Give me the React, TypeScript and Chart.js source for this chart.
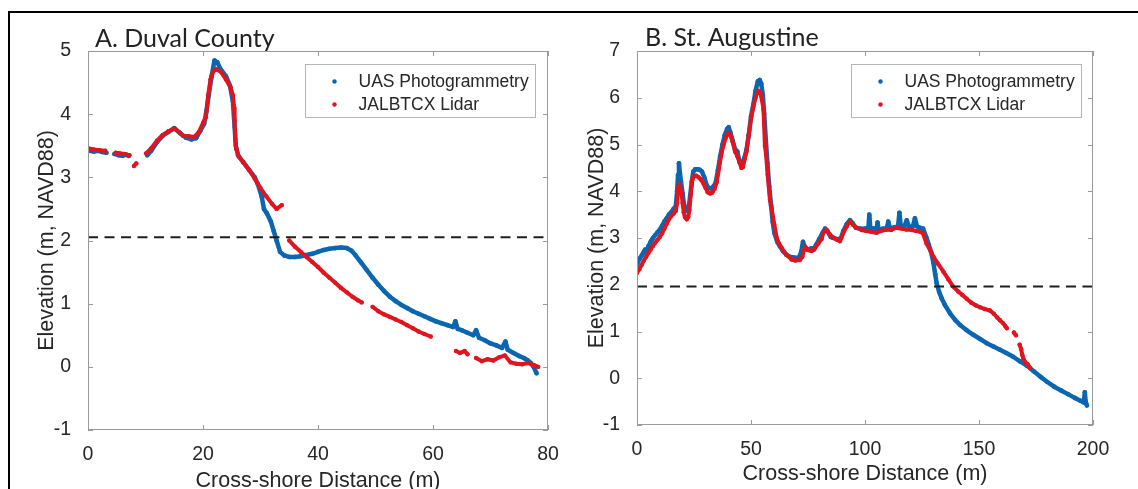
import React, { useEffect, useRef } from "react";
import { Chart, registerables } from "chart.js";

Chart.register(...registerables);

type Pt = [number, number | null];

// ---------- Panel A: Duval County ----------
const duvalTitle = "A. Duval County";
const duvalXTicks = { min: 0, max: 80, step: 20 };
const duvalYTicks = { min: -1, max: 5, step: 1 };
const duvalDatum = 2.05;
const duvalUas: Pt[] = [
  [0.2, 3.42], [1, 3.41], [1.8, 3.42], [2.5, 3.4], [3.2, 3.39], [3.6, null],
  [4.6, 3.37], [5.3, 3.35], [6, 3.34], [6.6, 3.36], [7.1, 3.34], [8, null],
  [10.3, 3.35], [11, 3.42], [12, 3.56], [13, 3.66], [14, 3.72], [15, 3.78], [16, 3.7],
  [17, 3.63], [18, 3.6], [18.8, 3.62], [19.5, 3.73], [20.2, 3.85], [20.6, 4.05], [21, 4.3],
  [21.5, 4.6], [22, 4.85], [22.5, 4.82], [23, 4.72], [24, 4.6], [24.7, 4.45], [25.2, 4.2],
  [25.5, 3.8], [25.7, 3.5], [26.1, 3.35], [27, 3.24], [28, 3.12], [29, 3.0], [29.5, 2.9],
  [30.2, 2.7], [30.6, 2.5], [31.1, 2.43], [31.8, 2.3], [32.3, 2.15], [32.8, 2.0], [33.4, 1.82],
  [34.2, 1.76], [35, 1.74], [36, 1.74], [37, 1.75], [38, 1.77], [39, 1.79], [40, 1.82],
  [41, 1.85], [42, 1.87], [43, 1.88], [44, 1.89], [45, 1.88], [45.8, 1.84], [46.5, 1.77],
  [47.5, 1.65], [48.5, 1.53], [49.5, 1.41], [50.5, 1.3], [51.5, 1.2], [52.5, 1.11],
  [53.5, 1.04], [54.5, 0.98], [55.5, 0.93], [56.5, 0.88], [57.5, 0.84], [58.5, 0.8],
  [59.5, 0.76], [60.5, 0.72], [61.5, 0.69], [62.5, 0.66], [63.5, 0.63], [63.9, 0.72],
  [64.3, 0.6], [65, 0.58], [66, 0.54], [67, 0.5], [67.5, 0.58], [68, 0.46], [69, 0.42],
  [70, 0.37], [71, 0.34], [72, 0.3], [72.6, 0.4], [73, 0.27], [74, 0.22], [75, 0.17],
  [75.8, 0.14], [76.5, 0.1], [77, 0.06], [77.5, 0.0], [78, -0.1],
];
const duvalLidar: Pt[] = [
  [0, 3.46], [1, 3.44], [2, 3.43], [3, 3.42], [3.8, null],
  [4.8, 3.39], [5.5, 3.38], [6.3, 3.37], [7.2, 3.35], [7.6, null],
  [8, 3.18], [8.4, 3.22], [9.2, null],
  [10.1, 3.38], [11, 3.46], [12, 3.58], [13, 3.67], [14, 3.73], [15, 3.77], [15.8, 3.72],
  [16.5, 3.66], [17.5, 3.65], [18.5, 3.64], [19.3, 3.72], [20, 3.86], [20.5, 3.95],
  [20.9, 4.3], [21.3, 4.55], [21.8, 4.68], [22.3, 4.71], [23, 4.68], [24, 4.55], [24.8, 4.42],
  [25.2, 4.3], [25.4, 4.1], [25.5, 3.9], [25.6, 3.62], [25.8, 3.45], [26.2, 3.33], [27, 3.24],
  [28, 3.12], [29, 2.98], [30, 2.83], [31, 2.7], [32, 2.58], [32.8, 2.5], [33.7, 2.56], [34.3, null],
  [35, 2.0], [36, 1.9], [37, 1.82], [38, 1.74], [39, 1.66], [40, 1.58], [41, 1.49], [42, 1.41],
  [43, 1.33], [44, 1.25], [45, 1.18], [46, 1.11], [47, 1.05], [47.6, 1.02], [48.6, null],
  [49.5, 0.95], [50.5, 0.88], [51.5, 0.83], [52.5, 0.79], [53.5, 0.75], [54.5, 0.71],
  [55.5, 0.66], [56.5, 0.61], [57.5, 0.56], [58.5, 0.52], [59.6, 0.48], [62, null],
  [64, 0.25], [64.7, 0.22], [65.5, 0.25], [66, 0.2], [66.8, null],
  [67.5, 0.14], [68.5, 0.09], [69.5, 0.12], [70.5, 0.1], [71.5, 0.15], [72.5, 0.18],
  [73.5, 0.07], [74.5, 0.05], [75.5, 0.04], [76.5, 0.06], [77.5, 0.03], [78.3, 0.0],
];

// ---------- Panel B: St. Augustine ----------
const augTitle = "B. St. Augustine";
const augXTicks = { min: 0, max: 200, step: 50 };
const augYTicks = { min: -1, max: 7, step: 1 };
const augDatum = 1.96;
const augUas: Pt[] = [
  [0, 2.43], [1, 2.55], [2, 2.62], [3, 2.7], [3.5, 2.75], [4, 2.7], [5, 2.82], [6, 2.92],
  [7, 3.0], [8, 3.06], [9, 3.12], [10, 3.18], [11, 3.26], [12, 3.35], [13, 3.42], [14, 3.5],
  [15, 3.55], [16, 3.62], [17, 3.68], [17.6, 4.0], [18, 4.35], [18.4, 4.6], [18.8, 4.4],
  [19.3, 4.2], [20, 3.95], [20.5, 3.75], [21.2, 3.6], [22, 3.58], [22.7, 3.65], [23.3, 3.9],
  [24, 4.2], [24.7, 4.42], [25.5, 4.47], [26.5, 4.47], [27.5, 4.46], [28.5, 4.42], [29.5, 4.3],
  [30.5, 4.13], [31.5, 4.07], [32.5, 4.06], [33.5, 4.1], [34.5, 4.18], [35.5, 4.45], [36.5, 4.75],
  [37.5, 5.0], [38.5, 5.2], [39.5, 5.33], [40.2, 5.37], [41, 5.25], [42, 5.08], [43, 4.9],
  [44, 4.85], [45, 4.62], [46, 4.55], [47, 4.7], [48, 4.88], [49, 5.2], [50, 5.6], [51, 5.85],
  [52, 6.15], [53, 6.35], [53.8, 6.38], [54.5, 6.3], [55.2, 6.05], [55.8, 5.65], [56.5, 5.1],
  [57.2, 4.6], [58, 4.1], [58.8, 3.7], [59.5, 3.35], [60.3, 3.1], [61.5, 2.92], [62.7, 2.82],
  [64, 2.72], [65.5, 2.64], [67, 2.6], [69, 2.58], [71, 2.58], [72, 2.7], [72.8, 2.92],
  [73.6, 2.8], [75, 2.75], [76.5, 2.78], [77.5, 2.75], [78.5, 2.85], [80, 2.98], [81.5, 3.12],
  [82.5, 3.2], [83.5, 3.15], [85, 3.02], [86.5, 3.0], [88, 2.97], [89.5, 3.0], [90.5, 3.15],
  [92, 3.3], [93.4, 3.38], [94.5, 3.32], [96, 3.22], [98, 3.2], [100, 3.2], [101.5, 3.22],
  [101.9, 3.5], [102.3, 3.22], [104, 3.2], [105, 3.15], [105.5, 3.33], [106, 3.18], [108, 3.2],
  [109.5, 3.2], [110.2, 3.35], [111, 3.2], [113, 3.23], [114.5, 3.25], [115.1, 3.54],
  [115.7, 3.25], [117, 3.22], [118.3, 3.38], [119.5, 3.22], [121, 3.25], [121.9, 3.42],
  [122.8, 3.25], [124, 3.22], [125.5, 3.2], [127, 3.0], [128, 2.85], [129, 2.7], [130, 2.47],
  [130.8, 2.22], [131.4, 2.04], [132.5, 1.85], [133.6, 1.71], [135, 1.57], [137.3, 1.39],
  [139.5, 1.25], [141.7, 1.14], [144.5, 1.03], [147.5, 0.93], [150.5, 0.84], [153.4, 0.75],
  [156.3, 0.68], [159.2, 0.61], [162, 0.54], [165, 0.46], [168, 0.36], [171, 0.27], [174, 0.15],
  [177, 0.03], [180, -0.08], [183, -0.18], [186, -0.26], [189, -0.34], [192, -0.42],
  [194.5, -0.48], [196, -0.52], [196.4, -0.3], [196.8, -0.5], [197.3, -0.58],
];
const augLidar: Pt[] = [
  [0, 2.25], [1, 2.33], [2, 2.42], [3, 2.52], [4, 2.6], [5, 2.68], [6, 2.76], [7, 2.83],
  [8, 2.9], [9, 2.96], [10, 3.02], [11, 3.1], [12, 3.2], [13, 3.3], [14, 3.4], [15, 3.47],
  [16, 3.52], [17, 3.58], [17.6, 3.75], [18, 4.05], [18.5, 4.15], [19, 4.05], [19.5, 3.95],
  [20, 3.75], [20.5, 3.55], [21, 3.45], [21.8, 3.4], [22.5, 3.45], [23, 3.6], [23.6, 3.95],
  [24.3, 4.25], [25, 4.32], [26, 4.33], [27, 4.3], [28, 4.25], [29, 4.18], [30, 4.08],
  [31, 3.98], [32, 3.95], [33, 3.97], [34, 4.05], [35, 4.2], [36, 4.5], [37, 4.8], [38, 5.0],
  [39, 5.15], [40, 5.25], [41, 5.2], [42, 5.05], [43, 4.85], [44, 4.75], [45, 4.62],
  [45.8, 4.5], [46.5, 4.52], [47.3, 4.7], [48, 4.85], [49, 5.2], [50, 5.55], [51, 5.8],
  [52, 6.0], [53, 6.15], [54, 6.12], [54.8, 5.95], [55.5, 5.75], [56.1, 4.97], [56.6, 4.79],
  [57.3, 4.36], [58.3, 3.82], [59, 3.64], [60.2, 3.29], [61.3, 3.0], [62.3, 2.88], [63.4, 2.79],
  [65.6, 2.64], [67.8, 2.54], [69.5, 2.52], [71.5, 2.53], [72.5, 2.6], [73.7, 2.82], [75, 2.74],
  [76.6, 2.72], [78, 2.78], [79.5, 2.88], [81, 2.98], [81.7, 3.11], [83.1, 3.18], [84.5, 3.08],
  [86.1, 3.0], [87.5, 2.97], [89, 2.93], [90.5, 3.11], [92, 3.25], [93.4, 3.36], [94.8, 3.28],
  [96.3, 3.22], [98.5, 3.17], [100.6, 3.15], [103, 3.13], [105, 3.11], [107, 3.15],
  [109.4, 3.18], [111.5, 3.17], [113.7, 3.22], [116, 3.2], [118.1, 3.18], [120.5, 3.17],
  [122.5, 3.15], [124, 3.14], [125.4, 3.1], [127, 2.88], [128.5, 2.75], [130, 2.6],
  [132, 2.45], [134.4, 2.28], [136.5, 2.12], [138.7, 1.96], [141, 1.85], [142.7, 1.78],
  [144.6, 1.7], [146.5, 1.62], [148.5, 1.56], [150.4, 1.52], [152.5, 1.48], [154.8, 1.45],
  [156.5, 1.38], [158, 1.3], [159.2, 1.24], [160.5, 1.18], [161.5, 1.12], [162.2, 1.07],
  [163.8, null], [165.3, 0.98], [166.2, 0.92], [167, null], [167.8, 0.72], [168.5, 0.62],
  [169, 0.5], [169.4, 0.43], [170.2, 0.35], [171.3, 0.3], [172.4, 0.22],
];

// ---------- Shared text ----------
const seriesNames = ["UAS Photogrammetry", "JALBTCX Lidar"];
const xAxisTitle = "Cross-shore Distance (m)";
const yAxisTitle = "Elevation (m, NAVD88)";

const BLUE = "#0b66b2";
const RED = "#e0151f";
const TEXT = "#262626";
const AXIS = "#9a9a9a";
const SANS = "'Liberation Sans', Arial, sans-serif";

const toXY = (pts: Pt[]) => pts.map(([x, y]) => ({ x, y }));

const matlabPlugin = {
  id: "matlabBox",
  afterDraw(chart: any, _args: any, opts: any) {
    const { ctx, chartArea: a, scales } = chart;
    const xs = scales.x;
    const ys = scales.y;
    ctx.save();
    // axes box
    ctx.strokeStyle = AXIS;
    ctx.lineWidth = 1;
    ctx.strokeRect(Math.round(a.left) + 0.5, Math.round(a.top) + 0.5, Math.round(a.right - a.left) - 1, Math.round(a.bottom - a.top) - 1);
    // inward ticks on all sides
    const tl = 5;
    ctx.beginPath();
    xs.ticks.forEach((t: any) => {
      const px = Math.round(xs.getPixelForValue(t.value)) + 0.5;
      ctx.moveTo(px, a.bottom);
      ctx.lineTo(px, a.bottom - tl);
      ctx.moveTo(px, a.top);
      ctx.lineTo(px, a.top + tl);
    });
    ys.ticks.forEach((t: any) => {
      const py = Math.round(ys.getPixelForValue(t.value)) + 0.5;
      ctx.moveTo(a.left, py);
      ctx.lineTo(a.left + tl, py);
      ctx.moveTo(a.right, py);
      ctx.lineTo(a.right - tl, py);
    });
    ctx.stroke();

    // panel title
    ctx.fillStyle = "#222222";
    ctx.font = "25px Lato, 'Open Sans', sans-serif";
    ctx.textAlign = "left";
    ctx.textBaseline = "alphabetic";
    ctx.fillText(opts.title, a.left + opts.titleDx, a.top + opts.titleDy);

    // legend box
    const lw = 230;
    const lh = 53;
    const lx = Math.round(a.right - opts.legendRight - lw) + 0.5;
    const ly = Math.round(a.top + 13) + 0.5;
    ctx.fillStyle = "#ffffff";
    ctx.fillRect(lx, ly, lw, lh);
    ctx.strokeStyle = "#b5b5b5";
    ctx.strokeRect(lx, ly, lw, lh);
    const colors = [BLUE, RED];
    ctx.font = `17.5px ${SANS}`;
    ctx.textBaseline = "middle";
    seriesNames.forEach((name, i) => {
      const cy = ly + 17 + i * 23;
      ctx.fillStyle = colors[i];
      ctx.beginPath();
      ctx.arc(lx + 29, cy, 2.2, 0, Math.PI * 2);
      ctx.fill();
      ctx.fillStyle = TEXT;
      ctx.fillText(name, lx + 53, cy + 1);
    });
    ctx.restore();
  },
};

type PanelCfg = {
  uas: Pt[];
  lidar: Pt[];
  datum: number;
  xr: { min: number; max: number; step: number };
  yr: { min: number; max: number; step: number };
  title: string;
  padding: { top: number; right: number; left: number; bottom: number };
  yWidth: number;
  xHeight: number;
  yTitlePad: number;
  xTitlePad: number;
  titleDx: number;
  titleDy: number;
  legendRight: number;
};

function Panel({ cfg, width, height, left }: { cfg: PanelCfg; width: number; height: number; left: number }) {
  const ref = useRef<HTMLCanvasElement | null>(null);
  useEffect(() => {
    if (!ref.current) return;
    const tickFont = { family: SANS, size: 19.5 };
    const titleFont = { family: SANS, size: 21.5 };
    const chart = new Chart(ref.current, {
      type: "scatter",
      data: {
        datasets: [
          {
            label: "datum",
            data: [{ x: cfg.xr.min, y: cfg.datum }, { x: cfg.xr.max, y: cfg.datum }],
            showLine: true,
            borderColor: "#1e1e1e",
            borderWidth: 2,
            borderDash: [10, 6.5],
            pointRadius: 0,
            order: 0,
          },
          {
            label: seriesNames[1],
            data: toXY(cfg.lidar),
            showLine: true,
            spanGaps: false,
            borderColor: RED,
            backgroundColor: RED,
            borderWidth: 4,
            borderJoinStyle: "round",
            borderCapStyle: "round",
            pointRadius: 2.2,
            pointBorderWidth: 0,
            order: 1,
          },
          {
            label: seriesNames[0],
            data: toXY(cfg.uas),
            showLine: true,
            spanGaps: false,
            borderColor: BLUE,
            backgroundColor: BLUE,
            borderWidth: 4.5,
            borderJoinStyle: "round",
            borderCapStyle: "round",
            pointRadius: 2.3,
            pointBorderWidth: 0,
            order: 2,
          },
        ],
      } as any,
      options: {
        animation: false,
        responsive: false,
        maintainAspectRatio: false,
        layout: { padding: cfg.padding },
        plugins: {
          legend: { display: false },
          tooltip: { enabled: false },
          matlabBox: { title: cfg.title, titleDx: cfg.titleDx, titleDy: cfg.titleDy, legendRight: cfg.legendRight },
        } as any,
        scales: {
          x: {
            type: "linear",
            min: cfg.xr.min,
            max: cfg.xr.max,
            afterFit: (s: any) => {
              s.height = cfg.xHeight;
            },
            grid: { display: false },
            border: { display: false },
            ticks: { stepSize: cfg.xr.step, padding: 5, color: TEXT, font: tickFont, maxRotation: 0, autoSkip: false },
            title: { display: true, text: xAxisTitle, color: TEXT, font: titleFont, padding: { top: 0, bottom: cfg.xTitlePad } },
          },
          y: {
            type: "linear",
            min: cfg.yr.min,
            max: cfg.yr.max,
            afterFit: (s: any) => {
              s.width = cfg.yWidth;
            },
            grid: { display: false },
            border: { display: false },
            ticks: { stepSize: cfg.yr.step, padding: 9, color: TEXT, font: tickFont, autoSkip: false },
            title: { display: true, text: yAxisTitle, color: TEXT, font: titleFont, padding: { top: cfg.yTitlePad, bottom: 0 } },
          },
        },
      } as any,
      plugins: [matlabPlugin as any],
    });
    return () => chart.destroy();
  }, [cfg]);
  return (
    <canvas
      ref={ref}
      width={width}
      height={height}
      style={{ position: "absolute", left, top: 0, width, height }}
    />
  );
}

const panelA: PanelCfg = {
  uas: duvalUas,
  lidar: duvalLidar,
  datum: duvalDatum,
  xr: duvalXTicks,
  yr: duvalYTicks,
  title: duvalTitle,
  padding: { top: 51, right: 21, left: 0, bottom: 0 },
  yWidth: 88,
  xHeight: 59,
  yTitlePad: 34,
  xTitlePad: -4.5,
  titleDx: 7,
  titleDy: -4,
  legendRight: 13,
};

const panelB: PanelCfg = {
  uas: augUas,
  lidar: augLidar,
  datum: augDatum,
  xr: augXTicks,
  yr: augYTicks,
  title: augTitle,
  padding: { top: 51, right: 45, left: 0, bottom: 0 },
  yWidth: 68,
  xHeight: 64,
  yTitlePad: 15,
  xTitlePad: 2,
  titleDx: 8,
  titleDy: -5,
  legendRight: 12,
};

export default function App() {
  return (
    <div style={{ position: "fixed", left: 0, top: 0, width: 1138, height: 489, background: "#ffffff", overflow: "hidden" }}>
      <Panel cfg={panelA} width={569} height={489} left={0} />
      <Panel cfg={panelB} width={569} height={489} left={569} />
      <div style={{ position: "absolute", left: 8, top: 11, width: 1130, height: 2, background: "#000" }} />
      <div style={{ position: "absolute", left: 8, top: 11, width: 2, height: 478, background: "#000" }} />
    </div>
  );
}
